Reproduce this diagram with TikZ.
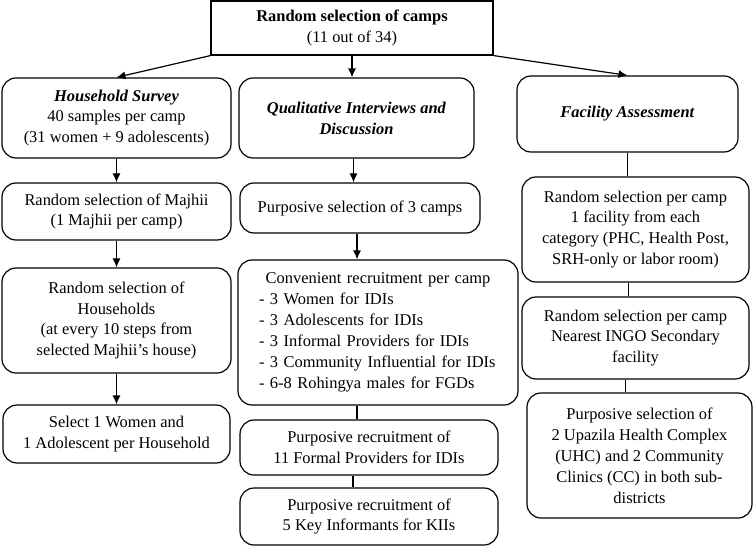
\documentclass[tikz,border=0pt]{standalone}
\usepackage{fontspec}
\setmainfont{Liberation Serif}
\usepackage{tikz}
\usetikzlibrary{arrows.meta}

\begin{document}
\begin{tikzpicture}[x=1bp, y=-1bp]

  \tikzstyle{topbox}   = [rectangle, draw=black, line width=1.2pt, align=center, inner sep=2pt]
  \tikzstyle{stagebox} = [rectangle, rounded corners=14bp, draw=black, line width=1.2pt, align=center, inner sep=2pt]
  \tikzstyle{arrow}    = [line width=1.2pt, -{Latex[length=9bp, width=8bp]}]
  \tikzstyle{link}     = [line width=1.2pt]

  \useasboundingbox (0,0) rectangle (756,547);
  \fontsize{16.5}{21}\selectfont

  \node (camps) [topbox, minimum width=282bp, minimum height=54bp] at (352,28) {\textbf{Random selection of camps}\\(11 out of 34)};

  % household survey
  \node (survey)  [stagebox, minimum width=229bp, minimum height=80bp] at (116.5,118) {\textbf{\textit{Household Survey}}\\40 samples per camp\\(31 women + 9 adolescents)};
  \node (majhii)  [stagebox, minimum width=229bp, minimum height=57bp] at (116.5,211.5) {Random selection of Majhii\\(1 Majhii per camp)};
  \node (houses)  [stagebox, minimum width=229bp, minimum height=105bp] at (116.5,320.5) {Random selection of\\Households\\(at every 10 steps from\\selected Majhii’s house)};
  \node (select)  [stagebox, minimum width=227bp, minimum height=58bp] at (116.5,434) {Select 1 Women and\\1 Adolescent per Household};

  % qualitative
  \node (quali)   [stagebox, minimum width=235bp, minimum height=80bp] at (356.5,118) {\textbf{\textit{Qualitative Interviews and}}\\\textbf{\textit{Discussion}}};
  \node (threecamps) [stagebox, minimum width=240bp, minimum height=50bp] at (360,208) {Purposive selection of 3 camps};
  \node (conv)    [stagebox, minimum width=280bp, minimum height=145bp, text width=238bp, align=left] at (378,332.5) {\makebox[\linewidth][c]{Convenient recruitment per camp}\\- 3 Women for IDIs\\- 3 Adolescents for IDIs\\- 3 Informal Providers for IDIs\\- 3 Community Influential for IDIs\\- 6-8 Rohingya males for FGDs};
  \node (formal)  [stagebox, minimum width=258bp, minimum height=55bp] at (369,447.5) {Purposive recruitment of\\11 Formal Providers for IDIs};
  \node (key)     [stagebox, minimum width=258bp, minimum height=57bp] at (369,516.5) {Purposive recruitment of\\5 Key Informants for KIIs};

  % facility assessment
  \node (facility) [stagebox, minimum width=221bp, minimum height=76bp] at (627.5,114) {\textbf{\textit{Facility Assessment}}};
  \node (category) [stagebox, minimum width=227bp, minimum height=105bp] at (635.5,229.5) {Random selection per camp\\1 facility from each\\category (PHC, Health Post,\\SRH-only or labor room)};
  \node (ingo)     [stagebox, minimum width=227bp, minimum height=82bp] at (635.5,338) {Random selection per camp\\Nearest INGO Secondary\\facility};
  \node (uhc)      [stagebox, minimum width=225bp, minimum height=125bp] at (639.5,455.5) {Purposive selection of\\2 Upazila Health Complex\\(UHC) and 2 Community\\Clinics (CC) in both sub-\\districts};

  \draw [arrow] (camps.south west) -- (survey.north);
  \draw [arrow] (camps.south) -- (camps.south |- quali.north);
  \draw [arrow] (camps.south east) -- (facility.north);

  \draw [arrow] (survey.south) -- (majhii.north);
  \draw [arrow] (majhii.south) -- (houses.north);
  \draw [arrow] (houses.south) -- (select.north);

  \draw [arrow] ([xshift=-3bp]quali.south) -- ([xshift=-3bp]quali.south |- threecamps.north);
  \draw [arrow] ([xshift=-3bp]threecamps.south) -- ([xshift=-3bp]threecamps.south |- conv.north);
  \draw [link] ([xshift=-12bp]formal.north |- conv.south) -- ([xshift=-12bp]formal.north);
  \draw [link] ([xshift=-16bp]formal.south) -- ([xshift=-16bp]key.north);

  \draw [link] (facility.south) -- (facility.south |- category.north);
  \draw [link] ([xshift=-7bp]category.south) -- ([xshift=-7bp]ingo.north);
  \draw [link] ([xshift=-10bp]ingo.south) -- ([xshift=-10bp]ingo.south |- uhc.north);

\end{tikzpicture}
\end{document}
